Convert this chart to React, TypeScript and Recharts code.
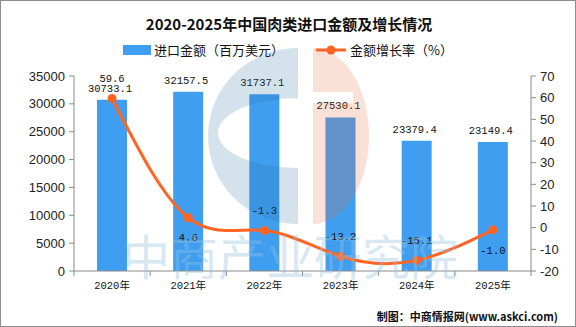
import { Bar, ComposedChart, LabelList, Line, XAxis, YAxis } from "recharts";

const years = ["2020年", "2021年", "2022年", "2023年", "2024年", "2025年"];
const importAmount = [30733.1, 32157.5, 31737.1, 27530.1, 23379.4, 23149.4];
const growthRate = [59.6, 4.6, -1.3, -13.2, -15.1, -1.0];
const amountTicks = [0, 5000, 10000, 15000, 20000, 25000, 30000, 35000];
const rateTicks = [-20, -10, 0, 10, 20, 30, 40, 50, 60, 70];

const data = years.map((year, i) => ({
  year,
  amount: importAmount[i],
  rate: growthRate[i],
}));

const W = 576;
const H = 327;
const LEFT_W = 74;
const RIGHT_W = 45;
const BAND = (W - LEFT_W - RIGHT_W) / years.length;

const BAR = "#409ef0";
const LINE = "#ff6422";
const AXIS = "#8a8a8a";
const MONO = "'Liberation Mono', 'Noto Sans CJK SC', monospace";
const CJK = "'Noto Sans CJK SC', sans-serif";

// rate labels that sit under their dot instead of above it
const rateBelow = new Set([1, 5]);

function XTick({ x, y, payload, index }: any) {
  const left = x - BAND / 2;
  return (
    <g>
      <line x1={left} x2={left} y1={y} y2={y + 5} stroke={AXIS} />
      {index === years.length - 1 && (
        <line x1={x + BAND / 2} x2={x + BAND / 2} y1={y} y2={y + 5} stroke={AXIS} />
      )}
      <text
        x={x}
        y={y + 15}
        textAnchor="middle"
        dominantBaseline="middle"
        fontFamily={MONO}
        fontSize={10.5}
        fill="#111"
      >
        {payload.value}
      </text>
    </g>
  );
}

function AmountLabel({ x, y, width, value }: any) {
  return (
    <text
      x={x + width / 2 - 2}
      y={y - 11}
      textAnchor="middle"
      dominantBaseline="middle"
      fontFamily={MONO}
      fontSize={10.5}
      fill="#111"
    >
      {Number(value).toFixed(1)}
    </text>
  );
}

function RateLabel({ x, y, value, index }: any) {
  const dy = rateBelow.has(index) ? 21 : -19;
  return (
    <text
      x={x}
      y={y + dy}
      textAnchor="middle"
      dominantBaseline="middle"
      fontFamily={MONO}
      fontSize={10.5}
      fill="#111"
    >
      {Number(value).toFixed(1)}
    </text>
  );
}

function Watermark() {
  return (
    <svg
      width={W}
      height={H}
      style={{ position: "absolute", left: 0, top: 0, pointerEvents: "none" }}
    >
      <path
        d="M297 47 A90 88 0 0 0 297 223 Z M297 97 A80 35 0 0 0 297 167 Z"
        fillRule="evenodd"
        fill="rgba(40,110,160,0.2)"
      />
      <path
        d="M312 47 A56 88 0 0 1 312 223 Z M312 91 L352 91 L352 102 L312 102 Z"
        fillRule="evenodd"
        fill="rgba(230,100,50,0.2)"
      />
      <text
        x={289}
        y={274}
        textAnchor="middle"
        fontFamily={CJK}
        fontWeight={400}
        fontSize={48}
        fill="rgba(150,195,222,0.4)"
      >
        中商产业研究院
      </text>
    </svg>
  );
}

export default function App() {
  return (
    <div
      style={{
        position: "absolute",
        left: 0,
        top: 0,
        width: W,
        height: H,
        boxSizing: "border-box",
        border: "1px solid #8c8c8c",
        background: "#fff",
        overflow: "hidden",
      }}
    >
      <div
        style={{
          position: "absolute",
          left: 0,
          top: 12,
          width: W,
          textAlign: "center",
          fontFamily: CJK,
          fontWeight: 700,
          fontSize: 15,
          lineHeight: "22px",
          color: "#111",
        }}
      >
        2020-2025年中国肉类进口金额及增长情况
      </div>

      <div
        style={{
          position: "absolute",
          left: 0,
          top: 40,
          width: W,
          height: 18,
          fontFamily: CJK,
          fontSize: 13,
          color: "#111",
        }}
      >
        <div style={{ position: "absolute", left: 122, top: 4, width: 28, height: 10, background: BAR }} />
        <span style={{ position: "absolute", left: 153, top: 0, lineHeight: "18px" }}>
          进口金额（百万美元）
        </span>
        <svg width={30} height={18} style={{ position: "absolute", left: 315, top: 0 }}>
          <line x1={0} x2={30} y1={9} y2={9} stroke={LINE} strokeWidth={3} />
          <circle cx={15} cy={9} r={4.5} fill={LINE} />
        </svg>
        <span style={{ position: "absolute", left: 349, top: 0, lineHeight: "18px" }}>
          金额增长率（%）
        </span>
      </div>

      <ComposedChart
        width={W}
        height={H}
        data={data}
        margin={{ top: 76, right: 0, bottom: 26, left: 0 }}
        style={{ position: "absolute", left: -1, top: -1 }}
      >
        <XAxis
          dataKey="year"
          height={30}
          interval={0}
          tickSize={0}
          tickMargin={0}
          stroke={AXIS}
          tick={<XTick />}
        />
        <YAxis
          yAxisId="amount"
          width={LEFT_W}
          domain={[0, 35000]}
          ticks={amountTicks}
          tickSize={5}
          tickMargin={4}
          stroke={AXIS}
          tick={{ fill: "#222", fontSize: 13, fontFamily: "'Liberation Sans', Arial, sans-serif" }}
        />
        <YAxis
          yAxisId="rate"
          orientation="right"
          width={RIGHT_W}
          domain={[-20, 70]}
          ticks={rateTicks}
          tickSize={5}
          tickMargin={4}
          stroke={AXIS}
          tick={{ fill: "#222", fontSize: 13, fontFamily: "'Liberation Sans', Arial, sans-serif" }}
        />
        <Bar yAxisId="amount" dataKey="amount" fill={BAR} barSize={30} isAnimationActive={false}>
          <LabelList dataKey="amount" content={<AmountLabel />} />
        </Bar>
        <Line
          yAxisId="rate"
          dataKey="rate"
          type="natural"
          stroke={LINE}
          strokeWidth={3}
          dot={{ r: 4.5, fill: LINE, stroke: LINE, strokeWidth: 0 }}
          isAnimationActive={false}
        >
          <LabelList dataKey="rate" content={<RateLabel />} />
        </Line>
      </ComposedChart>

      <Watermark />

      <div
        style={{
          position: "absolute",
          right: 17,
          top: 306,
          fontFamily: CJK,
          fontWeight: 700,
          fontSize: 11,
          lineHeight: "18px",
          color: "#111",
        }}
      >
        制图：中商情报网(www.askci.com)
      </div>
    </div>
  );
}
